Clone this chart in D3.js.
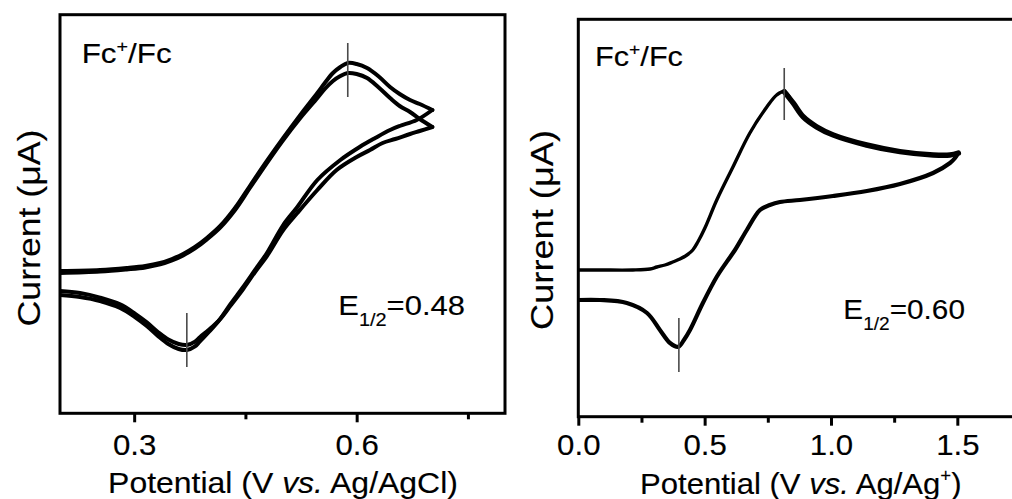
<!DOCTYPE html>
<html>
<head>
<meta charset="utf-8">
<script src="https://cdn.jsdelivr.net/npm/d3@7"></script>
<style>
  html, body { margin: 0; padding: 0; background: #fff; }
  svg { display: block; font-family: "Liberation Sans", Arial, sans-serif; }
  svg text { stroke: #000; stroke-width: 0.15px; }
</style>
</head>
<body>
<svg id="chart" width="1012" height="499"></svg>
<script>
// Cyclic voltammograms of the Fc+/Fc couple, [potential (V), current (μA)]

// Ag/AgCl reference: two consecutive scans
const agclScan1Forward = [
  [0.200, 0.025], [0.254, 0.05], [0.290, 0.10], [0.315, 0.15], [0.335, 0.225],
  [0.351, 0.325], [0.366, 0.45], [0.382, 0.625], [0.398, 0.85], [0.416, 1.15],
  [0.436, 1.6], [0.456, 2.15], [0.478, 2.75], [0.501, 3.35], [0.524, 3.925],
  [0.547, 4.475], [0.557, 4.725], [0.568, 4.975], [0.578, 5.125], [0.588, 5.225],
  [0.600, 5.2], [0.614, 5.1], [0.629, 4.9], [0.645, 4.625], [0.658, 4.45],
  [0.672, 4.3], [0.685, 4.2], [0.702, 4.05]
];
const agclScan1Reverse = [
  [0.702, 4.05], [0.681, 3.8], [0.658, 3.65], [0.645, 3.55], [0.625, 3.35],
  [0.604, 3.125], [0.578, 2.8], [0.547, 2.3], [0.520, 1.625], [0.501, 1.175],
  [0.479, 0.475], [0.463, 0.05], [0.447, -0.375], [0.430, -0.8], [0.416, -1.175],
  [0.402, -1.475], [0.389, -1.725], [0.382, -1.86], [0.371, -1.95], [0.360, -1.925],
  [0.346, -1.8], [0.332, -1.6], [0.317, -1.35], [0.301, -1.125], [0.281, -0.9],
  [0.254, -0.725], [0.227, -0.625], [0.200, -0.575]
];
const agclScan2Forward = [
  [0.200, -0.025], [0.254, 0.01], [0.290, 0.065], [0.315, 0.115], [0.335, 0.19],
  [0.351, 0.29], [0.366, 0.415], [0.382, 0.59], [0.398, 0.815], [0.416, 1.11],
  [0.436, 1.55], [0.456, 2.1], [0.478, 2.7], [0.501, 3.3], [0.524, 3.85],
  [0.547, 4.35], [0.557, 4.575], [0.568, 4.775], [0.578, 4.9], [0.588, 4.975],
  [0.600, 4.95], [0.614, 4.85], [0.629, 4.625], [0.645, 4.35], [0.658, 4.15],
  [0.672, 4.0], [0.685, 3.825], [0.702, 3.625]
];
const agclScan2Reverse = [
  [0.702, 3.625], [0.685, 3.525], [0.672, 3.45], [0.652, 3.325], [0.635, 3.225],
  [0.618, 3.05], [0.600, 2.875], [0.573, 2.55], [0.547, 2.05], [0.520, 1.475],
  [0.501, 1.05], [0.479, 0.4], [0.463, 0.0], [0.447, -0.425], [0.430, -0.84],
  [0.416, -1.175], [0.402, -1.425], [0.389, -1.625], [0.382, -1.74], [0.371, -1.825],
  [0.360, -1.8], [0.346, -1.69], [0.332, -1.5], [0.317, -1.26], [0.301, -1.04],
  [0.281, -0.81], [0.254, -0.64], [0.227, -0.525], [0.200, -0.475]
];

// Ag/Ag+ reference: one scan
const agScanForward = [
  [0.000, 0.0], [0.086, 0.0], [0.216, 0.0], [0.284, 0.025], [0.311, 0.075],
  [0.343, 0.125], [0.374, 0.2], [0.402, 0.275], [0.430, 0.375], [0.453, 0.5],
  [0.473, 0.7], [0.501, 1.05], [0.548, 1.75], [0.612, 2.575], [0.679, 3.425],
  [0.746, 4.075], [0.785, 4.375], [0.815, 4.46], [0.851, 4.17], [0.890, 3.83],
  [0.943, 3.58], [1.009, 3.375], [1.141, 3.125], [1.273, 2.96], [1.405, 2.875],
  [1.471, 2.875], [1.504, 2.925]
];
const agScanReverse = [
  [1.504, 2.925], [1.491, 2.8], [1.471, 2.675], [1.404, 2.425], [1.273, 2.15],
  [1.142, 1.975], [1.008, 1.85], [0.877, 1.75], [0.798, 1.7], [0.758, 1.625],
  [0.719, 1.5], [0.667, 1.0], [0.620, 0.5], [0.588, 0.21], [0.548, -0.17],
  [0.493, -0.825], [0.442, -1.5], [0.418, -1.75], [0.396, -1.92], [0.363, -1.825],
  [0.323, -1.5], [0.272, -1.075], [0.192, -0.825], [0.086, -0.75], [0.000, -0.75]
];

// Peak markers: [potential, upper current, lower current]
const agclPeakMarks = [[0.588, 5.725, 4.375], [0.371, -1.025, -2.375]];
const agPeakMarks = [[0.815, 5.05, 3.75], [0.398, -1.2, -2.55]];

// Axis ticks
const agclMajorTicks = [0.3, 0.6];
const agclMinorTicks = [0.45, 0.75];
const agMajorTicks = [0.0, 0.5, 1.0, 1.5];
const agMinorTicks = [0.25, 0.75, 1.25];

// Half-wave potentials
const agclHalfWave = "0.48";
const agHalfWave = "0.60";

const svg = d3.select("#chart");

// Stretches a text element horizontally to a target width
function fitText(sel, x, y, width, rotate) {
  const w = sel.node().getBBox().width;
  const s = width / w;
  sel.attr("transform", `translate(${x},${y})` + (rotate ? ` rotate(${rotate})` : "") + ` scale(${s},1)`);
  return sel;
}

function drawPanel(cfg) {
  const g = svg.append("g");
  const x = d3.scaleLinear().domain(cfg.xDomain).range([cfg.left, cfg.right]);
  const y = d3.scaleLinear().domain(cfg.yDomain).range([cfg.bottom, cfg.top]);
  const line = d3.line().x(d => x(d[0])).y(d => y(d[1])).curve(d3.curveCatmullRom.alpha(0.5));

  const clipId = "clip-" + cfg.id;
  g.append("clipPath").attr("id", clipId)
    .append("rect").attr("x", cfg.left).attr("y", cfg.top)
    .attr("width", cfg.right - cfg.left).attr("height", cfg.bottom - cfg.top);

  const plot = g.append("g").attr("clip-path", `url(#${clipId})`);

  cfg.curves.forEach(c => {
    plot.append("path").datum(c.data).attr("d", line)
      .attr("fill", "none").attr("stroke", "#000")
      .attr("stroke-width", c.width).attr("stroke-linejoin", "round").attr("stroke-linecap", "round");
  });

  // peak markers
  plot.selectAll("line.mark").data(cfg.marks).join("line")
    .attr("x1", d => x(d[0])).attr("x2", d => x(d[0]))
    .attr("y1", d => y(d[1])).attr("y2", d => y(d[2]))
    .attr("stroke", "#4a4a4a").attr("stroke-width", 1.6);

  // frame
  g.append("rect").attr("x", cfg.left).attr("y", cfg.top)
    .attr("width", cfg.right - cfg.left).attr("height", cfg.bottom - cfg.top)
    .attr("fill", "none").attr("stroke", "#000").attr("stroke-width", 3);

  // bottom axis
  const axis = g.append("g").attr("transform", `translate(0,${cfg.bottom})`)
    .call(d3.axisBottom(x).tickValues(cfg.major).tickSize(9).tickPadding(cfg.tickPad).tickFormat(d3.format(".1f")));
  axis.select(".domain").remove();
  axis.selectAll(".tick line").attr("stroke", "#000").attr("stroke-width", 3);
  axis.selectAll(".tick text").attr("fill", "#000").attr("font-size", 30)
    .attr("font-family", "Liberation Sans, Arial, sans-serif")
    .attr("transform", "scale(1.04,1)");
  const minor = g.append("g").attr("transform", `translate(0,${cfg.bottom})`)
    .call(d3.axisBottom(x).tickValues(cfg.minor).tickSize(6).tickFormat(""));
  minor.select(".domain").remove();
  minor.selectAll(".tick line").attr("stroke", "#000").attr("stroke-width", 3);

  // couple label
  const fc = g.append("text").attr("font-size", 27).attr("fill", "#000");
  fc.append("tspan").text("Fc");
  fc.append("tspan").text("+").attr("font-size", 17).attr("dy", -11);
  fc.append("tspan").text("/Fc").attr("font-size", 27).attr("dy", 11);
  fitText(fc, cfg.fc[0], cfg.fc[1], cfg.fc[2]);

  // half-wave potential
  const e = g.append("text").attr("font-size", 28).attr("fill", "#000");
  e.append("tspan").text("E");
  e.append("tspan").text("1/2").attr("font-size", 18).attr("dy", 11);
  e.append("tspan").text("=" + cfg.halfWave).attr("font-size", 28).attr("dy", -11);
  fitText(e, cfg.e[0], cfg.e[1], cfg.e[2]);

  // x-axis title
  const xt = g.append("text").attr("font-size", 30).attr("fill", "#000").attr("text-anchor", "middle");
  xt.append("tspan").text("Potential (V ");
  xt.append("tspan").text("vs.").attr("font-style", "italic");
  if (cfg.refSup) {
    xt.append("tspan").text(" " + cfg.ref);
    xt.append("tspan").text(cfg.refSup).attr("font-size", 18).attr("dy", -12);
    xt.append("tspan").text(")").attr("font-size", 30).attr("dy", 12);
  } else {
    xt.append("tspan").text(" " + cfg.ref + ")");
  }
  fitText(xt, cfg.xTitle[0], cfg.xTitle[1], cfg.xTitle[2]);

  // y-axis title
  const yt = g.append("text").attr("font-size", 32).attr("fill", "#000").attr("text-anchor", "middle")
    .text("Current (\u03bcA)");
  fitText(yt, cfg.yTitle[0], cfg.yTitle[1], cfg.yTitle[2], -90);
}

// left panel: Ag/AgCl
drawPanel({
  id: "agcl",
  left: 60, right: 505, top: 14.7, bottom: 413.3,
  xDomain: [0.2, 0.8], yDomain: [-3.5325, 6.4325],
  curves: [
    { data: agclScan1Forward, width: 4 },
    { data: agclScan1Reverse, width: 4 },
    { data: agclScan2Forward, width: 4 },
    { data: agclScan2Reverse, width: 4 }
  ],
  marks: agclPeakMarks,
  major: agclMajorTicks, minor: agclMinorTicks, tickPad: 11,
  fc: [81.7, 63.3, 90],
  halfWave: agclHalfWave, e: [338.3, 315, 126.7],
  ref: "Ag/AgCl", refSup: null, xTitle: [283, 493.3, 350],
  yTitle: [40, 228, 197]
});

// right panel: Ag/Ag+
const agPeakIdx = d3.maxIndex(agScanForward, d => d[1]);
drawPanel({
  id: "ag",
  left: 578.3, right: 1020.5, top: 19.3, bottom: 416.7,
  xDomain: [0, 1.75], yDomain: [-3.6675, 6.2675],
  curves: [
    { data: agScanForward, width: 3.4 },
    { data: agScanForward.slice(agPeakIdx), width: 5.5 },
    { data: agScanReverse, width: 4.2 }
  ],
  marks: agPeakMarks,
  major: agMajorTicks, minor: agMinorTicks, tickPad: 8,
  fc: [595, 66, 88],
  halfWave: agHalfWave, e: [843.3, 319.3, 121.7],
  ref: "Ag/Ag", refSup: "+", xTitle: [800.8, 494, 321.7],
  yTitle: [553, 230, 200]
});
</script>
</body>
</html>
